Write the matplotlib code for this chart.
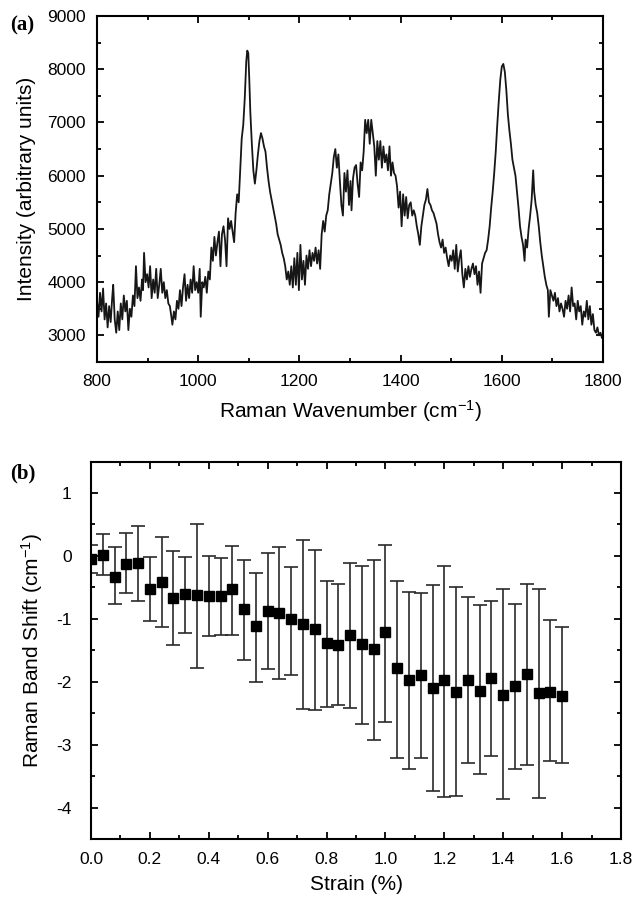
import numpy as np
import matplotlib
matplotlib.use('Agg')
import matplotlib.pyplot as plt
from matplotlib.ticker import MultipleLocator, FormatStrFormatter

plt.rcParams['font.family'] = ['Liberation Sans', 'DejaVu Sans']
plt.rcParams['mathtext.fontset'] = 'custom'
plt.rcParams['mathtext.rm'] = 'Liberation Sans'
plt.rcParams['mathtext.it'] = 'Liberation Sans:italic'
plt.rcParams['axes.unicode_minus'] = False

# (a) Raman spectrum
wavenumber = [
    800, 803, 806, 809, 812, 815, 818, 821, 824, 827, 830, 832, 835, 838, 841,
    844, 847, 850, 853, 856, 859, 862, 865, 868, 871, 874, 877, 880, 883, 886,
    889, 891, 893, 896, 899, 902, 905, 908, 911, 914, 917, 920, 923, 926, 929,
    932, 935, 938, 941, 944, 947, 949, 952, 955, 958, 961, 964, 967, 970, 973,
    976, 979, 982, 985, 988, 991, 994, 997, 1000, 1003, 1005, 1008, 1011, 1014, 1017,
    1020, 1023, 1026, 1029, 1032, 1035, 1038, 1041, 1044, 1047, 1050, 1053, 1056, 1059, 1062,
    1065, 1068, 1071, 1074, 1077, 1080, 1083, 1086, 1089, 1092, 1095, 1097, 1099, 1101, 1103,
    1106, 1109, 1112, 1115, 1118, 1121, 1124, 1127, 1130, 1133, 1136, 1139, 1142, 1145, 1148,
    1151, 1154, 1157, 1160, 1163, 1166, 1169, 1172, 1175, 1178, 1181, 1184, 1187, 1190, 1193,
    1196, 1199, 1202, 1205, 1208, 1211, 1214, 1217, 1220, 1223, 1226, 1229, 1232, 1235, 1238,
    1241, 1244, 1247, 1250, 1253, 1256, 1259, 1262, 1265, 1268, 1271, 1274, 1277, 1280, 1283,
    1286, 1289, 1292, 1295, 1298, 1301, 1303, 1306, 1309, 1312, 1315, 1318, 1321, 1324, 1327,
    1330, 1333, 1336, 1339, 1342, 1345, 1348, 1351, 1354, 1357, 1360, 1363, 1366, 1369, 1372,
    1375, 1378, 1381, 1384, 1387, 1390, 1393, 1396, 1399, 1402, 1405, 1408, 1411, 1414, 1417,
    1420, 1423, 1426, 1429, 1432, 1435, 1438, 1441, 1444, 1447, 1450, 1453, 1456, 1459, 1462,
    1465, 1468, 1471, 1474, 1477, 1480, 1483, 1486, 1489, 1492, 1495, 1498, 1501, 1504, 1507,
    1510, 1513, 1516, 1519, 1522, 1525, 1528, 1531, 1534, 1537, 1540, 1543, 1546, 1549, 1552,
    1555, 1558, 1561, 1564, 1567, 1570, 1573, 1576, 1579, 1582, 1585, 1588, 1591, 1594, 1597,
    1600, 1603, 1606, 1609, 1612, 1615, 1618, 1621, 1624, 1627, 1630, 1633, 1636, 1639, 1642,
    1645, 1647, 1650, 1653, 1656, 1659, 1662, 1664, 1667, 1670, 1673, 1676, 1679, 1682, 1685,
    1688, 1691, 1693, 1696, 1699, 1702, 1705, 1708, 1711, 1714, 1717, 1720, 1723, 1726, 1729,
    1732, 1735, 1738, 1741, 1744, 1747, 1750, 1753, 1756, 1759, 1762, 1765, 1768, 1771, 1774,
    1777, 1780, 1783, 1786, 1789, 1792, 1795, 1798, 1800]
intensity = [
    3650, 3350, 3800, 3450, 3880, 3300, 3600, 3150, 3550, 3250, 3700, 3950, 3300, 3050, 3450,
    3100, 3600, 3300, 3750, 3450, 3650, 3100, 3500, 3350, 3750, 3550, 4300, 3700, 3900, 3650,
    4050, 3850, 4550, 4000, 4150, 3900, 4300, 3700, 4050, 3800, 4250, 3700, 3950, 4250, 3800,
    4000, 3700, 3850, 3600, 3550, 3350, 3200, 3450, 3300, 3650, 3500, 3850, 3550, 3900, 4150,
    3650, 3950, 3700, 4050, 3800, 4300, 3850, 4000, 3800, 4250, 3350, 4000, 3900, 4100, 3800,
    4200, 4050, 4650, 4400, 4850, 4500, 4750, 4950, 4300, 4900, 5050, 4800, 4300, 5200, 5000,
    5150, 4950, 4750, 5300, 5650, 5500, 6100, 6700, 6950, 7450, 8150, 8350, 8300, 7800, 7200,
    6600, 6100, 5850, 6100, 6400, 6650, 6800, 6700, 6550, 6450, 6150, 5900, 5700, 5550, 5400,
    5250, 5100, 4900, 4800, 4700, 4550, 4450, 4300, 4050, 4200, 3950, 4300, 3900, 4450, 3950,
    4550, 3850, 4700, 4050, 4400, 3950, 4500, 4250, 4600, 4300, 4550, 4400, 4650, 4350, 4600,
    4250, 4900, 5150, 4950, 5250, 5350, 5650, 5850, 6050, 6350, 6500, 6150, 6400, 5900, 5450,
    5250, 6050, 5700, 6100, 5450, 5900, 5350, 5950, 6150, 6200, 5850, 5600, 6250, 6100, 6450,
    7050, 6800, 7050, 6600, 7050, 6800, 6550, 6000, 6650, 6300, 6650, 6150, 6550, 6250, 6400,
    6100, 6550, 6000, 6250, 6050, 6000, 5800, 5400, 5700, 5050, 5650, 5250, 5600, 5200, 5450,
    5500, 5250, 5350, 5250, 5050, 4900, 4700, 5050, 5250, 5450, 5550, 5750, 5500, 5450, 5350,
    5300, 5200, 5100, 4900, 4750, 4650, 4800, 4550, 4650, 4450, 4300, 4500, 4400, 4600, 4250,
    4700, 4200, 4450, 4600, 4150, 3900, 4250, 4050, 4300, 4100, 4250, 4350, 4150, 4300, 3950,
    4200, 3800, 4350, 4450, 4550, 4600, 4800, 5050, 5400, 5700, 6050, 6450, 6950, 7400, 7800,
    8050, 8100, 7950, 7600, 7150, 6850, 6600, 6300, 6150, 6000, 5700, 5400, 5050, 4850, 4700,
    4400, 4800, 4650, 5000, 5250, 5550, 6100, 5700, 5450, 5300, 5050, 4750, 4500, 4300, 4100,
    3950, 3850, 3350, 3850, 3750, 3650, 3800, 3550, 3700, 3450, 3600, 3500, 3350, 3650, 3500,
    3750, 3450, 3900, 3550, 3600, 3300, 3650, 3450, 3550, 3200, 3450, 3350, 3650, 3300, 3550,
    3200, 3400, 3100, 3050, 3150, 3000, 3050, 2950, 3000]

# (b) band shift vs strain
strain = [0.00, 0.04, 0.08, 0.12, 0.16, 0.20, 0.24, 0.28, 0.32, 0.36, 0.40,
          0.44, 0.48, 0.52, 0.56, 0.60, 0.64, 0.68, 0.72, 0.76, 0.80, 0.84,
          0.88, 0.92, 0.96, 1.00, 1.04, 1.08, 1.12, 1.16, 1.20, 1.24, 1.28,
          1.32, 1.36, 1.40, 1.44, 1.48, 1.52, 1.56, 1.60]
shift = [-0.05, 0.01, -0.33, -0.13, -0.12, -0.52, -0.42, -0.67, -0.60, -0.62, -0.63,
         -0.63, -0.53, -0.85, -1.12, -0.87, -0.90, -1.01, -1.08, -1.17, -1.39, -1.41,
         -1.25, -1.40, -1.48, -1.21, -1.78, -1.97, -1.90, -2.10, -1.98, -2.16, -1.98,
         -2.14, -1.94, -2.21, -2.07, -1.88, -2.18, -2.16, -2.23]
err_top = [0.17, 0.34, 0.14, 0.36, 0.48, -0.02, 0.30, 0.07, -0.01, 0.51, 0.00,
           -0.03, 0.15, -0.07, -0.27, 0.04, 0.14, -0.17, 0.26, 0.10, -0.40, -0.45,
           -0.11, -0.16, -0.06, 0.17, -0.40, -0.57, -0.59, -0.47, -0.16, -0.50, -0.65,
           -0.78, -0.71, -0.53, -0.76, -0.44, -0.52, -1.02, -1.13]
err_bottom = [-0.27, -0.31, -0.76, -0.59, -0.71, -1.03, -1.13, -1.41, -1.23, -1.78, -1.28,
              -1.26, -1.25, -1.65, -2.00, -1.80, -1.96, -1.89, -2.43, -2.45, -2.40, -2.37,
              -2.42, -2.67, -2.93, -2.64, -3.21, -3.39, -3.21, -3.73, -3.83, -3.81, -3.29,
              -3.47, -3.18, -3.86, -3.38, -3.33, -3.85, -3.26, -3.29]


def style_axes(ax):
    for sp in ax.spines.values():
        sp.set_linewidth(1.5)
    ax.tick_params(which='both', direction='in', top=True, right=True,
                   width=1.3, labelsize=12.5)
    ax.tick_params(which='major', length=5)
    ax.tick_params(which='minor', length=3)


fig = plt.figure(figsize=(6.34, 8.99), dpi=100)
W, H = 634.0, 899.0

ax1 = fig.add_axes([97 / W, 1 - 362 / H, (603 - 97) / W, (362 - 16) / H])
ax1.plot(wavenumber, intensity, color='#161616', lw=1.3)
ax1.set_xlim(800, 1800)
ax1.set_ylim(2500, 9000)
ax1.xaxis.set_major_locator(MultipleLocator(200))
ax1.xaxis.set_minor_locator(MultipleLocator(100))
ax1.yaxis.set_major_locator(MultipleLocator(1000))
ax1.yaxis.set_minor_locator(MultipleLocator(500))
style_axes(ax1)
ax1.tick_params(axis='x', pad=9)
ax1.tick_params(axis='y', pad=8)
ax1.set_xlabel('Raman Wavenumber (cm$^{-1}$)', fontsize=15, labelpad=6)
ax1.set_ylabel('Intensity (arbitrary units)', fontsize=15, labelpad=8)
fig.text(10 / W, 1 - 25 / H, '(a)', fontsize=15, fontweight='bold',
         family='Liberation Serif', va='center', ha='left')

ax2 = fig.add_axes([91 / W, 1 - 839 / H, (621 - 91) / W, (839 - 461.5) / H])
lo = np.array(shift) - np.array(err_bottom)
hi = np.array(err_top) - np.array(shift)
ax2.errorbar(strain, shift, yerr=[lo, hi], fmt='s', color='black', ms=6.5,
             ecolor='#2a2a2a', elinewidth=1.2, capsize=5, capthick=1.2)
ax2.set_xlim(0, 1.8)
ax2.set_ylim(-4.5, 1.5)
ax2.xaxis.set_major_locator(MultipleLocator(0.2))
ax2.xaxis.set_minor_locator(MultipleLocator(0.1))
ax2.xaxis.set_major_formatter(FormatStrFormatter('%.1f'))
ax2.yaxis.set_major_locator(MultipleLocator(1))
ax2.yaxis.set_minor_locator(MultipleLocator(0.5))
ax2.yaxis.set_major_formatter(FormatStrFormatter('%d'))
style_axes(ax2)
ax2.tick_params(axis='x', pad=9)
ax2.tick_params(axis='y', pad=14)
ax2.set_xlabel('Strain (%)', fontsize=15, labelpad=6)
ax2.set_ylabel('Raman Band Shift (cm$^{-1}$)', fontsize=15, labelpad=8)
fig.text(10 / W, 1 - 473 / H, '(b)', fontsize=15, fontweight='bold',
         family='Liberation Serif', va='center', ha='left')

fig.savefig('out.png', dpi=100)
